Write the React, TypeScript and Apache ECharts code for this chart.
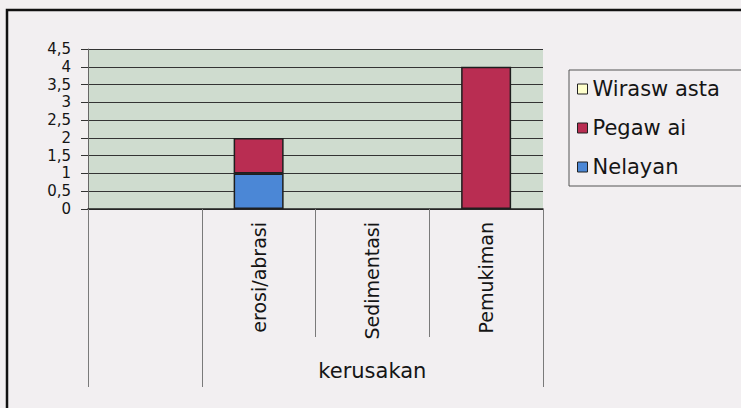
import React, { useEffect, useRef } from "react";
import * as echarts from "echarts";

const categories = ["", "erosi/abrasi", "Sedimentasi", "Pemukiman"];
const nelayan = [0, 1, 0, 0];
const pegawai = [0, 1, 0, 4];
const wiraswasta = [0, 0, 0, 0];
const seriesNames = ["Nelayan", "Pegaw ai", "Wirasw asta"];
const legendOrder = ["Wirasw asta", "Pegaw ai", "Nelayan"];
const yMin = 0;
const yMax = 4.5;
const yStep = 0.5;
const groupLabel = "kerusakan";
const groupBounds = [0, 1, 4];
const groupCenter = 2.5;

const FONT = "DejaVu Sans";

const nz = (arr: number[]) => arr.map((v) => (v === 0 ? null : v));

export default function App() {
  const ref = useRef<HTMLDivElement>(null);
  useEffect(() => {
    if (!ref.current) return;
    const chart = echarts.init(ref.current, null, { renderer: "svg" });
    const barBorder = { borderColor: "#1e1e1e", borderWidth: 1.5 };
    chart.setOption({
      animation: false,
      backgroundColor: "#f2eff1",
      textStyle: { fontFamily: FONT },
      grid: {
        left: 88,
        right: 198,
        top: 49,
        bottom: 199,
        show: true,
        backgroundColor: "#cfdccf",
        borderWidth: 0,
      },
      legend: {
        data: legendOrder,
        orient: "vertical",
        left: 569,
        top: 70,
        padding: [8, 24, 8, 8],
        itemGap: 17,
        itemWidth: 10,
        itemHeight: 10,
        icon: "rect",
        borderColor: "#555",
        borderWidth: 1,
        backgroundColor: "rgba(0,0,0,0)",
        itemStyle: { borderColor: "#222", borderWidth: 1 },
        textStyle: { fontFamily: FONT, fontSize: 21, lineHeight: 22, color: "#151515" },
      },
      xAxis: [
        {
          type: "category",
          data: categories,
          position: "bottom",
          axisLine: { show: true, lineStyle: { color: "#222", width: 1.5 } },
          axisTick: {
            show: true,
            interval: 0,
            alignWithLabel: false,
            length: 128,
            lineStyle: { color: "#7a7a7a", width: 1 },
          },
          axisLabel: {
            interval: 0,
            rotate: 90,
            margin: 13,
            fontFamily: FONT,
            fontSize: 19,
            color: "#151515",
          },
          splitLine: { show: false },
        },
        {
          type: "value",
          min: 0,
          max: 4,
          position: "bottom",
          axisLine: { show: false },
          splitLine: { show: false },
          axisTick: {
            show: true,
            customValues: groupBounds,
            length: 178,
            lineStyle: { color: "#7a7a7a", width: 1 },
          },
          axisLabel: {
            customValues: [groupCenter],
            formatter: () => groupLabel,
            margin: 151,
            fontFamily: FONT,
            fontSize: 21,
            color: "#151515",
          },
        },
      ],
      yAxis: {
        type: "value",
        min: yMin,
        max: yMax,
        interval: yStep,
        axisLine: { show: true, lineStyle: { color: "#666", width: 1 } },
        axisTick: { show: true, length: 7, lineStyle: { color: "#333" } },
        axisLabel: {
          margin: 17,
          showMinLabel: true,
          showMaxLabel: true,
          hideOverlap: false,
          fontFamily: FONT,
          fontSize: 15,
          lineHeight: 16,
          color: "#151515",
          formatter: (v: number) => String(v).replace(".", ","),
        },
        splitLine: { show: true, lineStyle: { color: "#333", width: 1 } },
      },
      series: [
        {
          name: seriesNames[0],
          type: "bar",
          stack: "s",
          barWidth: 50,
          data: nz(nelayan),
          itemStyle: { color: "#4b87d6", ...barBorder },
        },
        {
          name: seriesNames[1],
          type: "bar",
          stack: "s",
          barWidth: 50,
          data: nz(pegawai),
          itemStyle: { color: "#b92d52", ...barBorder },
        },
        {
          name: seriesNames[2],
          type: "bar",
          stack: "s",
          barWidth: 50,
          data: nz(wiraswasta),
          itemStyle: { color: "#ffffcc", ...barBorder },
        },
      ],
      graphic: [
        {
          type: "rect",
          silent: true,
          z: -1,
          shape: { x: 7, y: 10, width: 780, height: 440 },
          style: { fill: "none", stroke: "#111", lineWidth: 2.5 },
        },
      ],
    });
    return () => chart.dispose();
  }, []);
  return (
    <div
      ref={ref}
      style={{ position: "absolute", left: 0, top: 0, width: 741, height: 408 }}
    />
  );
}
